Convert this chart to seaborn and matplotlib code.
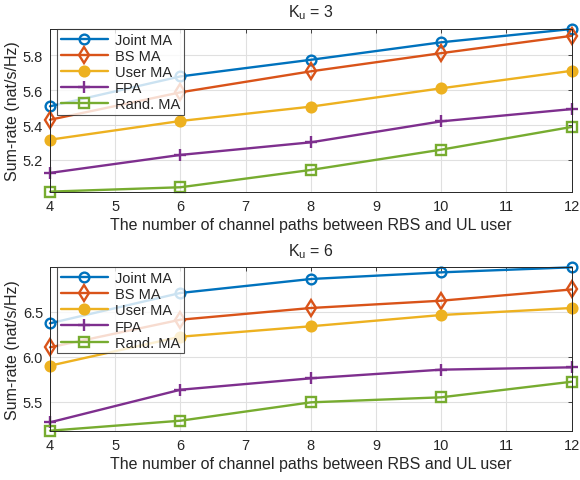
import matplotlib
matplotlib.use("Agg")
import matplotlib.pyplot as plt
import seaborn as sns
import numpy as np
import pandas as pd

paths = [4, 6, 8, 10, 12]
series = ["Joint MA", "BS MA", "User MA", "FPA", "Rand. MA"]

k3_joint = [5.507, 5.678, 5.773, 5.873, 5.949]
k3_bs = [5.430, 5.587, 5.707, 5.811, 5.910]
k3_user = [5.316, 5.423, 5.505, 5.610, 5.710]
k3_fpa = [5.126, 5.229, 5.301, 5.421, 5.491]
k3_rand = [5.019, 5.044, 5.143, 5.259, 5.389]

k6_joint = [6.371, 6.708, 6.863, 6.937, 6.993]
k6_bs = [6.104, 6.411, 6.541, 6.622, 6.747]
k6_user = [5.900, 6.222, 6.338, 6.463, 6.541]
k6_fpa = [5.271, 5.633, 5.760, 5.856, 5.882]
k6_rand = [5.178, 5.289, 5.493, 5.549, 5.722]

sns.set_style("white")
plt.rcParams['font.family'] = ['Liberation Sans', 'DejaVu Sans']

colors = ["#0072BD", "#D95319", "#EDB120", "#7E2F8E", "#77AC30"]
markers = ["o", "d", "o", "+", "s"]
msizes = [7, 8.5, 7, 9, 7]
fills = [False, False, True, False, False]

fig = plt.figure(figsize=(5.8, 4.81), dpi=100)
ax1 = fig.add_axes([0.0862, 0.5988, 0.8995, 0.3388])
ax2 = fig.add_axes([0.0862, 0.1025, 0.8995, 0.3397])

def draw(ax, data, ylim, yticks, title):
    for name, vals, c, m, ms, f in zip(series, data, colors, markers, msizes, fills):
        df = pd.DataFrame({"x": paths, "y": vals})
        sns.lineplot(data=df, x="x", y="y", ax=ax, color=c, marker=m,
                     markersize=ms, markeredgewidth=1.7,
                     markeredgecolor=c,
                     markerfacecolor=(c if f else "none"),
                     linewidth=1.7, label=name, clip_on=False)
    ax.set_xlim(4, 12)
    ax.set_ylim(*ylim)
    ax.set_xticks(range(4, 13))
    ax.set_yticks(yticks)
    ax.grid(True, color="#e0e0e0", linewidth=0.8)
    ax.set_axisbelow(True)
    ax.tick_params(direction="in", length=3, labelsize=10.5, width=0.6, pad=5,
                   top=True, right=True, colors="#262626")
    for s in ax.spines.values():
        s.set_color("#262626")
        s.set_linewidth(0.7)
    ax.set_xlabel("The number of channel paths between RBS and UL user", fontsize=11.5, color="#262626", labelpad=3)
    ax.set_ylabel("Sum-rate (nat/s/Hz)", fontsize=11.5, color="#262626", labelpad=2)
    ax.set_title(title, fontsize=11.5, color="#262626", pad=9)
    leg = ax.legend(loc="upper left", bbox_to_anchor=(0.014, 1.0), fontsize=10.5,
                    frameon=True, fancybox=False, edgecolor="#262626",
                    handlelength=3.2, borderpad=0.25, labelspacing=0.15,
                    handletextpad=0.5, borderaxespad=0.0)
    leg.get_frame().set_linewidth(0.8)
    leg.set_zorder(10)

draw(ax1, [k3_joint, k3_bs, k3_user, k3_fpa, k3_rand], (5.017, 5.949),
     [5.2, 5.4, 5.6, 5.8], r"K$_\mathregular{u}$ = 3")
draw(ax2, [k6_joint, k6_bs, k6_user, k6_fpa, k6_rand], (5.178, 6.993),
     [5.5, 6, 6.5], r"K$_\mathregular{u}$ = 6")

fig.savefig("out.png", dpi=100)
